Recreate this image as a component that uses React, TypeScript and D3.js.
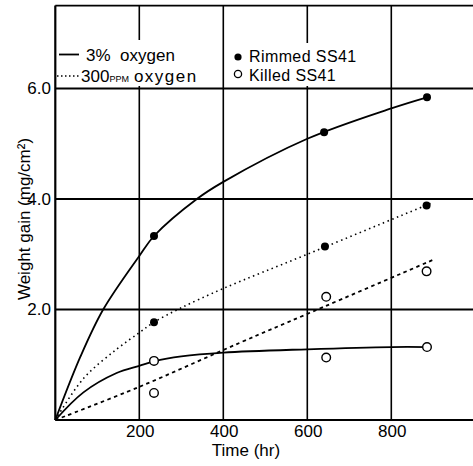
import React from "react";
import * as d3 from "d3";

// Measured points
const rimmed3Times = [235, 640, 885];
const rimmed3Vals = [3.33, 5.21, 5.84];
const rimmedPpmTimes = [235, 642, 884];
const rimmedPpmVals = [1.77, 3.14, 3.88];
const killed3Times = [235, 645, 885];
const killed3Vals = [1.07, 1.13, 1.32];
const killedPpmTimes = [235, 645, 884];
const killedPpmVals = [0.49, 2.23, 2.69];

// Fitted curves
const rimmed3CurveT = [0, 60, 114, 200, 235, 337, 400, 600, 800, 885];
const rimmed3CurveV = [0, 1.15, 2.0, 2.97, 3.33, 4.0, 4.31, 5.09, 5.64, 5.84];
const rimmedPpmCurveT = [0, 67, 146, 200, 235, 297, 400, 600, 900];
const rimmedPpmCurveV = [0, 0.75, 1.28, 1.58, 1.77, 2.02, 2.38, 3.0, 3.94];
const killed3CurveT = [0, 67, 146, 200, 235, 300, 400, 600, 800, 885];
const killed3CurveV = [0, 0.5, 0.85, 0.98, 1.06, 1.15, 1.22, 1.28, 1.32, 1.32];
const killedPpmCurveT = [0, 200, 440, 600, 900];
const killedPpmCurveV = [0, 0.6, 1.4, 1.92, 2.9];

const xTicks = [200, 400, 600, 800];
const yTicks = [2, 4, 6];
const yTickLabels = ["2.0", "4.0", "6.0"];

const W = 473;
const H = 466;

export default function App() {
  const x = d3.scaleLinear().domain([0, 1000]).range([55.3, 475.3]);
  const y = d3.scaleLinear().domain([0, 7.5]).range([420, 5.6]);
  const line = d3
    .line<[number, number]>()
    .x((d) => x(d[0]))
    .y((d) => y(d[1]))
    .curve(d3.curveCatmullRom.alpha(0.5));
  const zip = (t: number[], v: number[]) => t.map((tt, i) => [tt, v[i]] as [number, number]);
  const font = "'Liberation Sans', Arial, sans-serif";
  const x0 = x(0);
  const yTop = y(7.5);
  const yBot = y(0);

  return (
    <div style={{ position: "fixed", left: 0, top: 0, background: "#fff" }}>
      <svg width={W} height={H} style={{ display: "block" }} fontFamily={font}>
        <rect width={W} height={H} fill="#fff" />
        {/* grid */}
        {xTicks.map((t) => (
          <line key={"gx" + t} x1={x(t)} x2={x(t)} y1={yTop} y2={yBot} stroke="#000" strokeWidth={1.6} />
        ))}
        {yTicks.map((t) => (
          <line key={"gy" + t} x1={x0} x2={W} y1={y(t)} y2={y(t)} stroke="#000" strokeWidth={1.8} />
        ))}
        <line x1={x0} x2={W} y1={yTop} y2={yTop} stroke="#000" strokeWidth={1.8} />
        <line x1={x0} x2={W} y1={yBot} y2={yBot} stroke="#000" strokeWidth={2.2} />
        <line x1={x0} x2={x0} y1={yTop} y2={yBot} stroke="#000" strokeWidth={2.2} />

        {/* legend backgrounds */}
        <rect x={57} y={40} width={148} height={46} fill="#fff" />
        <rect x={231} y={43} width={140} height={43} fill="#fff" />

        {/* curves */}
        <path d={line(zip(rimmed3CurveT, rimmed3CurveV)) || ""} fill="none" stroke="#000" strokeWidth={1.8} />
        <path d={line(zip(killed3CurveT, killed3CurveV)) || ""} fill="none" stroke="#000" strokeWidth={1.8} />
        <path
          d={line(zip(rimmedPpmCurveT, rimmedPpmCurveV)) || ""}
          fill="none"
          stroke="#000"
          strokeWidth={1.6}
          strokeDasharray="1.5,3.5"
        />
        <path
          d={line(zip(killedPpmCurveT, killedPpmCurveV)) || ""}
          fill="none"
          stroke="#000"
          strokeWidth={1.8}
          strokeDasharray="3.5,3.5"
        />

        {/* points */}
        {zip(rimmed3Times, rimmed3Vals).map((d, i) => (
          <circle key={"r3" + i} cx={x(d[0])} cy={y(d[1])} r={4} fill="#000" />
        ))}
        {zip(rimmedPpmTimes, rimmedPpmVals).map((d, i) => (
          <circle key={"rp" + i} cx={x(d[0])} cy={y(d[1])} r={4} fill="#000" />
        ))}
        {zip(killed3Times, killed3Vals).map((d, i) => (
          <circle key={"k3" + i} cx={x(d[0])} cy={y(d[1])} r={4.3} fill="#fff" stroke="#000" strokeWidth={1.4} />
        ))}
        {zip(killedPpmTimes, killedPpmVals).map((d, i) => (
          <circle key={"kp" + i} cx={x(d[0])} cy={y(d[1])} r={4.3} fill="#fff" stroke="#000" strokeWidth={1.4} />
        ))}

        {/* tick labels */}
        {xTicks.map((t) => (
          <text key={"xt" + t} x={x(t) + 1} y={437} textAnchor="middle" fontSize={17}>
            {t}
          </text>
        ))}
        {yTicks.map((t, i) => (
          <text key={"yt" + t} x={51} y={y(t) + 6} textAnchor="end" fontSize={17}>
            {yTickLabels[i]}
          </text>
        ))}
        <text x={246} y={456} textAnchor="middle" fontSize={17}>
          Time (hr)
        </text>
        <text transform="translate(30,219) rotate(-90)" textAnchor="middle" fontSize={17}>
          Weight gain (mg/cm²)
        </text>

        {/* legend */}
        <line x1={59} x2={79} y1={54.5} y2={54.5} stroke="#000" strokeWidth={1.8} />
        <text x={86} y={61} fontSize={17}>
          3%{"\u00a0"}{"\u00a0"}oxygen
        </text>
        <line x1={57} x2={79} y1={76} y2={76} stroke="#000" strokeWidth={1.6} strokeDasharray="1.5,2.5" />
        <text x={81} y={82} fontSize={17}>
          300<tspan fontSize={9}>PPM</tspan>
          <tspan dx={5} letterSpacing={1.5}>oxygen</tspan>
        </text>
        <circle cx={238} cy={57} r={3.6} fill="#000" />
        <text x={249} y={62} fontSize={16} letterSpacing={0.4}>
          Rimmed SS41
        </text>
        <circle cx={238} cy={74} r={3.6} fill="#fff" stroke="#000" strokeWidth={1.3} />
        <text x={249} y={80.5} fontSize={16} letterSpacing={0.4}>
          Killed SS41
        </text>
      </svg>
    </div>
  );
}
